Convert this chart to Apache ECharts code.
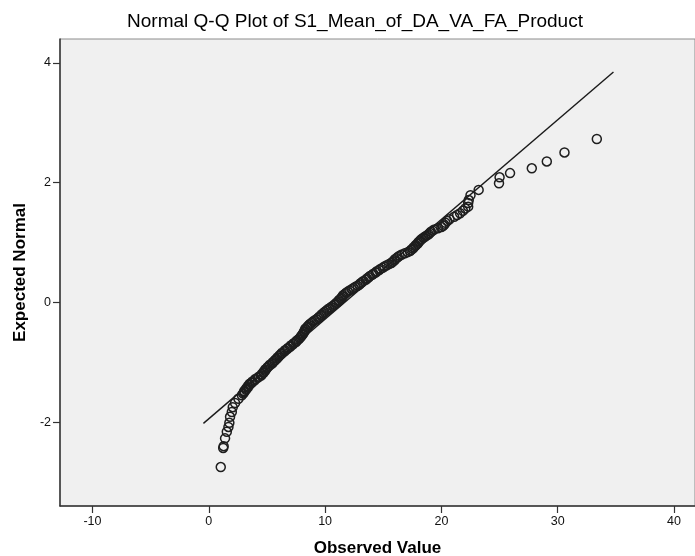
<!DOCTYPE html>
<html>
<head>
<meta charset="utf-8">
<script src="https://cdn.jsdelivr.net/npm/echarts@6/dist/echarts.min.js"></script>
<style>
html,body{margin:0;padding:0;background:#fff;}
#chart{width:695px;height:556px;}
</style>
</head>
<body>
<div id="chart"></div>
<script>
const titleText = "Normal Q-Q Plot of S1_Mean_of_DA_VA_FA_Product";
const xAxisTitle = "Observed Value";
const yAxisTitle = "Expected Normal";
const xTicks = [-10, 0, 10, 20, 30, 40];
const yTicks = [-2, 0, 2, 4];

const expected = [
  -2.75, -2.43, -2.40, -2.27, -2.16, -2.08, -2.01, -1.91, -1.83, -1.75, -1.68, -1.61, -1.55,
  -1.52, -1.50, -1.48, -1.46, -1.44, -1.42, -1.40, -1.38, -1.36, -1.34,
  -1.32, -1.30, -1.28, -1.26, -1.24, -1.22, -1.20, -1.18, -1.16, -1.14,
  -1.12, -1.10, -1.08, -1.06, -1.04, -1.02, -1.00, -0.98, -0.96, -0.94,
  -0.92, -0.90, -0.88, -0.86, -0.84, -0.82, -0.80, -0.78, -0.76, -0.74,
  -0.72, -0.70, -0.68, -0.66, -0.64, -0.62, -0.60, -0.58, -0.56, -0.54,
  -0.52, -0.50, -0.48, -0.46, -0.44, -0.42, -0.40, -0.38, -0.36, -0.34,
  -0.32, -0.30, -0.28, -0.26, -0.24, -0.22, -0.20, -0.18, -0.16, -0.14,
  -0.12, -0.10, -0.08, -0.06, -0.04, -0.02, 0.00, 0.02, 0.04, 0.06,
  0.08, 0.10, 0.12, 0.14, 0.16, 0.18, 0.20, 0.22, 0.24, 0.26,
  0.28, 0.30, 0.32, 0.34, 0.36, 0.38, 0.40, 0.42, 0.44, 0.46,
  0.48, 0.50, 0.52, 0.54, 0.56, 0.58, 0.60, 0.62, 0.64, 0.66,
  0.68, 0.70, 0.72, 0.74, 0.76, 0.78, 0.80, 0.82, 0.84, 0.86,
  0.88, 0.90, 0.92, 0.94, 0.96, 0.98, 1.00, 1.02, 1.04, 1.06,
  1.08, 1.10, 1.12, 1.14, 1.16, 1.18, 1.20, 1.22, 1.24, 1.26,
  1.28, 1.30, 1.33, 1.36, 1.39, 1.43, 1.46, 1.49, 1.53, 1.57,
  1.60, 1.66, 1.71, 1.79, 1.88, 1.99, 2.09, 2.16, 2.24, 2.355,
  2.505, 2.73
];
const observed = [
  1.03, 1.24, 1.28, 1.40, 1.55, 1.69, 1.77, 1.83, 1.98, 2.06, 2.26, 2.55, 2.84,
  2.95, 3.05, 3.05, 3.2, 3.2, 3.35, 3.35, 3.5, 3.5, 3.7,
  3.75, 3.95, 4.0, 4.2, 4.3, 4.5, 4.55, 4.7, 4.7, 4.85,
  4.85, 5.0, 5.05, 5.2, 5.25, 5.45, 5.5, 5.65, 5.7, 5.85,
  5.9, 6.05, 6.1, 6.25, 6.3, 6.5, 6.55, 6.75, 6.8, 7.0,
  7.05, 7.25, 7.3, 7.5, 7.55, 7.7, 7.8, 7.9, 7.95, 8.05,
  8.1, 8.2, 8.2, 8.3, 8.3, 8.45, 8.5, 8.6, 8.7, 8.85,
  8.95, 9.1, 9.25, 9.4, 9.5, 9.65, 9.7, 9.85, 9.95, 10.1,
  10.2, 10.35, 10.5, 10.65, 10.8, 10.9, 11.0, 11.15, 11.2, 11.35,
  11.4, 11.5, 11.55, 11.7, 11.8, 11.95, 12.1, 12.3, 12.45, 12.6,
  12.8, 12.95, 13.05, 13.2, 13.3, 13.5, 13.6, 13.75, 13.85, 14.05,
  14.15, 14.35, 14.45, 14.65, 14.75, 14.95, 15.1, 15.3, 15.5, 15.7,
  15.8, 15.95, 16.0, 16.15, 16.25, 16.4, 16.6, 16.85, 17.1, 17.3,
  17.4, 17.55, 17.6, 17.75, 17.8, 17.95, 18.0, 18.1, 18.2, 18.3,
  18.45, 18.6, 18.75, 18.9, 19.0, 19.1, 19.25, 19.4, 19.7, 20.0,
  20.15, 20.25, 20.35, 20.5, 20.7, 21.1, 21.35, 21.6, 21.85, 22.05,
  22.3, 22.3, 22.35, 22.5, 23.2, 24.95, 25.0, 25.9, 27.77, 29.06,
  30.58, 33.36
];
const lineObserved = [-0.46, 34.79];
const lineExpected = [-2.02, 3.85];

const points = observed.map((v, i) => [v, expected[i]]);
const linePts = lineObserved.map((v, i) => [v, lineExpected[i]]);

const chart = echarts.init(document.getElementById('chart'), null, {renderer: 'canvas'});
const font = 'Arial, "Liberation Sans", sans-serif';
chart.setOption({
  animation: false,
  backgroundColor: '#ffffff',
  textStyle: {fontFamily: font},
  graphic: [{
    type: 'text',
    x: 355, y: 22,
    style: {
      text: titleText,
      font: '19px ' + font,
      fill: '#000',
      align: 'center',
      verticalAlign: 'middle'
    }
  }],
  grid: {
    left: 60, right: 0, top: 39, bottom: 50,
    outerBoundsMode: 'none',
    containLabel: false,
    show: true,
    backgroundColor: '#f0f0f0',
    borderColor: '#8c8c8c',
    borderWidth: 1
  },
  xAxis: {
    type: 'value',
    min: -12.79, max: 41.8,
    name: xAxisTitle,
    nameLocation: 'middle',
    nameGap: 34,
    nameTextStyle: {fontSize: 17, fontWeight: 'bold', color: '#000', fontFamily: font},
    splitLine: {show: false},
    axisLine: {show: true, onZero: false, lineStyle: {color: '#333', width: 1.5}},
    axisTick: {show: true, length: 7, customValues: xTicks, lineStyle: {color: '#333', width: 1.2}},
    axisLabel: {customValues: xTicks, margin: 9, fontSize: 12.5, color: '#111', fontFamily: font}
  },
  yAxis: {
    type: 'value',
    min: -3.40, max: 4.4,
    name: yAxisTitle,
    nameLocation: 'middle',
    nameGap: 30,
    nameRotate: 90,
    nameTextStyle: {fontSize: 17, fontWeight: 'bold', color: '#000', fontFamily: font},
    splitLine: {show: false},
    axisLine: {show: true, onZero: false, lineStyle: {color: '#333', width: 1.5}},
    axisTick: {show: true, length: 7, customValues: yTicks, lineStyle: {color: '#333', width: 1.2}},
    axisLabel: {customValues: yTicks, margin: 9, fontSize: 12.5, color: '#111', fontFamily: font}
  },
  series: [
    {
      type: 'line',
      data: linePts,
      symbol: 'none',
      silent: true,
      lineStyle: {color: '#1a1a1a', width: 1.4},
      z: 2
    },
    {
      type: 'scatter',
      data: points,
      symbol: 'circle',
      symbolSize: 9,
      silent: true,
      itemStyle: {color: 'rgba(0,0,0,0)', borderColor: '#1e1e1e', borderWidth: 1.5, opacity: 1},
      z: 3
    }
  ]
});
</script>
</body>
</html>
